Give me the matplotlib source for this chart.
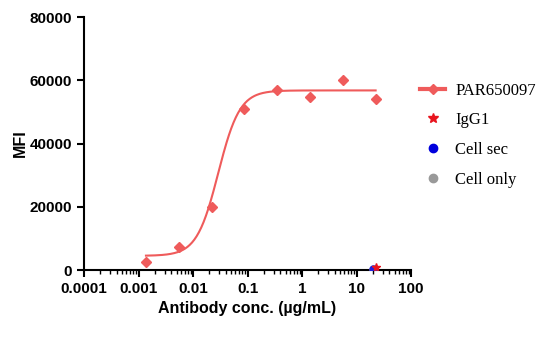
import numpy as np
import matplotlib.pyplot as plt
from matplotlib.ticker import LogLocator, NullFormatter, FixedLocator
from matplotlib.lines import Line2D

# PAR650097 dilution series (ug/mL) and MFI
conc = [0.00137, 0.00547, 0.0219, 0.0875, 0.35, 1.4, 5.6, 22.4]
mfi = [2700, 7400, 19800, 51000, 57000, 54800, 60000, 54000]

# 4PL fit parameters
fit_bottom = 4500
fit_top = 56800
fit_ec50 = 0.029
fit_hill = 2.2

# controls at top concentration
igg1_conc = [22.4]
igg1_mfi = [900]
cellsec_conc = [20.0]
cellsec_mfi = [300]
cellonly_conc = [20.0]
cellonly_mfi = [200]

red = '#EF5B5B'

plt.rcParams['font.family'] = ['Liberation Sans', 'DejaVu Sans']

fig = plt.figure(figsize=(5.6, 3.41), dpi=100)
ax = fig.add_axes([0.15, 0.208, 0.584, 0.742])

xs = np.logspace(np.log10(conc[0]), np.log10(conc[-1]), 300)
ys = fit_bottom + (fit_top - fit_bottom) / (1 + (fit_ec50 / xs) ** fit_hill)
ax.plot(xs, ys, color=red, lw=1.5, zorder=2)
ax.plot(conc, mfi, 'D', color=red, ms=5.5, zorder=3)

ax.plot(cellonly_conc, cellonly_mfi, 'o', color='#999999', ms=5, zorder=3)
ax.plot(cellsec_conc, cellsec_mfi, 'o', color='#2020dd', ms=5, zorder=4)
ax.plot(igg1_conc, igg1_mfi, '*', color='#e8141e', ms=6, zorder=5)

ax.set_xscale('log')
ax.set_xlim(1e-4, 100)
ax.set_ylim(0, 80000)
ax.xaxis.set_major_locator(FixedLocator([1e-4, 1e-3, 1e-2, 1e-1, 1, 10, 100]))
ax.set_xticklabels(['0.0001', '0.001', '0.01', '0.1', '1', '10', '100'])
ax.xaxis.set_minor_locator(LogLocator(base=10, subs=np.arange(2, 10)))
ax.xaxis.set_minor_formatter(NullFormatter())
ax.set_yticks([0, 20000, 40000, 60000, 80000])

for s in ['top', 'right']:
    ax.spines[s].set_visible(False)
for s in ['left', 'bottom']:
    ax.spines[s].set_linewidth(1.5)
ax.tick_params(which='major', length=5, width=1.5, labelsize=11)
ax.tick_params(which='minor', length=3, width=1)
for lab in ax.get_xticklabels() + ax.get_yticklabels():
    lab.set_fontweight('bold')

ax.set_xlabel('Antibody conc. (\u00b5g/mL)', fontsize=11.5, fontweight='bold')
ax.set_ylabel('MFI', fontsize=11.5, fontweight='bold', labelpad=1)

handles = [
    Line2D([], [], color=red, lw=3, marker='D', ms=5),
    Line2D([], [], color='#e8141e', lw=0, marker='*', ms=7),
    Line2D([], [], color='#0000dd', lw=0, marker='o', ms=6),
    Line2D([], [], color='#999999', lw=0, marker='o', ms=6),
]
labels = ['PAR650097', 'IgG1', 'Cell sec', 'Cell only']
fig.legend(handles, labels, loc='upper left', bbox_to_anchor=(0.724, 0.802),
           frameon=False, prop={'family': 'Liberation Serif', 'size': 12},
           labelspacing=0.82, handlelength=1.5, handletextpad=0.6)

fig.savefig('out.png', dpi=100)
